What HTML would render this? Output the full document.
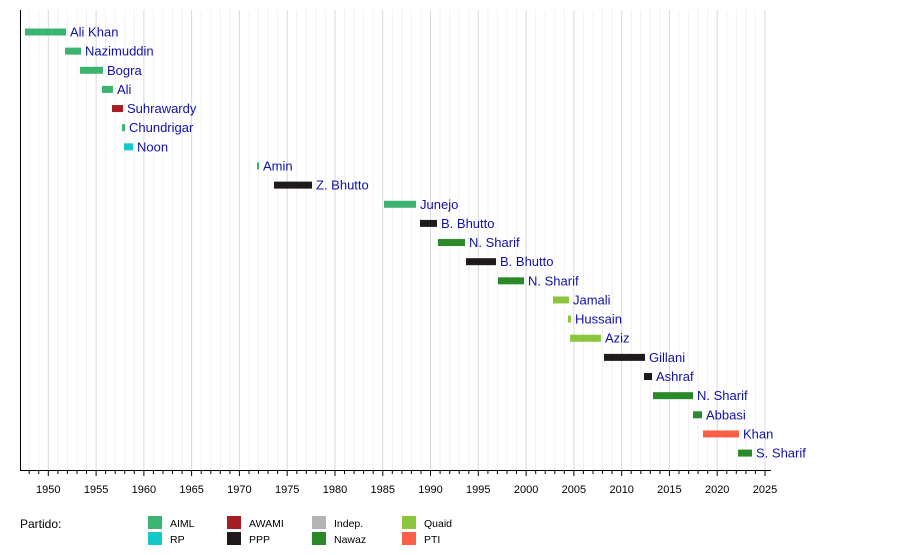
<!DOCTYPE html>
<html><head><meta charset="utf-8"><style>
body{margin:0;background:#fff}
svg text{font-family:"Liberation Sans",sans-serif}
</style></head><body>
<svg id="s" width="900" height="550" xmlns="http://www.w3.org/2000/svg"></svg>
<script>
var s=document.getElementById('s'),h='';
function X(y){return 48.3+(y-1950)*9.556;}
for(var y=1948;y<=2025;y++){var x=X(y).toFixed(1);var maj=y%5==0;
h+='<line x1="'+x+'" y1="10" x2="'+x+'" y2="470" stroke="'+(maj?'#d8d8d8':'#f0f0f0')+'" stroke-width="1"/>';
h+='<line x1="'+x+'" y1="470" x2="'+x+'" y2="'+(maj?476:474)+'" stroke="#000"/>';
if(maj)h+='<text x="'+x+'" y="493" font-size="11" text-anchor="middle" fill="#000">'+y+'</text>';}
h+='<line x1="20.5" y1="10" x2="20.5" y2="470.5" stroke="#000"/><line x1="20" y1="470.5" x2="771" y2="470.5" stroke="#000"/>';
var C={A:'#3cb371',W:'#a51c24',R:'#14c8c8',P:'#1e1a1e',N:'#2a8a2a',Q:'#8cc63f',T:'#fb5f45'};
var bars=[[25,66,'A','Ali Khan'],[65,81,'A','Nazimuddin'],[80,103,'A','Bogra'],[102,113,'A','Ali'],[112,123,'W','Suhrawardy'],[122,125,'A','Chundrigar'],[124,133,'R','Noon'],[257,259,'A','Amin'],[274,312,'P','Z. Bhutto'],[384,416,'A','Junejo'],[420,437,'P','B. Bhutto'],[438,465,'N','N. Sharif'],[466,496,'P','B. Bhutto'],[498,524,'N','N. Sharif'],[553,569,'Q','Jamali'],[568,571,'Q','Hussain'],[570,601,'Q','Aziz'],[604,645,'P','Gillani'],[644,652,'P','Ashraf'],[653,693,'N','N. Sharif'],[693,702,'N','Abbasi'],[703,739,'T','Khan'],[738,752,'N','S. Sharif']];
bars.forEach(function(b,i){var cy=32+i*19.14;
h+='<rect x="'+b[0]+'" y="'+(cy-3.5)+'" width="'+(b[1]-b[0])+'" height="7" fill="'+C[b[2]]+'"/>';
h+='<text x="'+(b[1]+4)+'" y="'+(cy+4.5)+'" font-size="13" fill="#1010a8">'+b[3]+'</text>';});
h+='<text x="20" y="528" font-size="12" fill="#000">Partido:</text>';
var L=[[148,516,'#3cb371','AIML'],[148,532,'#14c8c8','RP'],[227,516,'#a51c24','AWAMI'],[227,532,'#1e1a1e','PPP'],[312,516,'#b4b4b4','Indep.'],[312,532,'#2a8a2a','Nawaz'],[402,516,'#8cc63f','Quaid'],[402,532,'#fb5f45','PTI']];
L.forEach(function(l){h+='<rect x="'+l[0]+'" y="'+l[1]+'" width="14" height="13" fill="'+l[2]+'"/><text x="'+(l[0]+22)+'" y="'+(l[1]+11)+'" font-size="10.5" fill="#000">'+l[3]+'</text>';});
s.innerHTML=h;
</script>
</body></html>
